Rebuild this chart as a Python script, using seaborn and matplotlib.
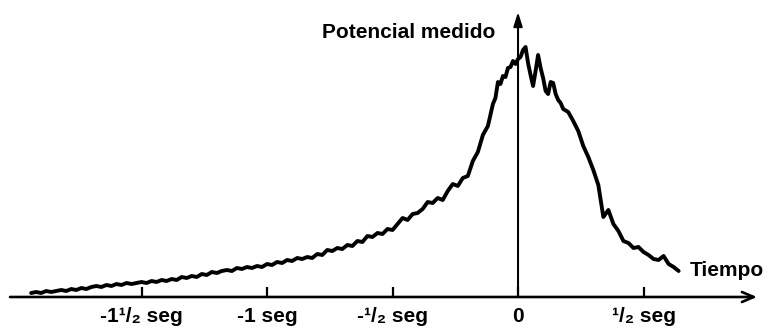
import numpy as np
import pandas as pd
import matplotlib
matplotlib.use("Agg")
import matplotlib.pyplot as plt
import seaborn as sns


# =========================
# DATA
# =========================

# sample times (s) and measured potential (arbitrary units)
TIME_S = [
    -1.94, -1.92, -1.90, -1.88, -1.86, -1.84, -1.82, -1.80, -1.78, -1.76,
    -1.74, -1.72, -1.70, -1.68, -1.66, -1.64, -1.62, -1.60, -1.58, -1.56,
    -1.54, -1.52, -1.50, -1.48, -1.46, -1.44, -1.42, -1.40, -1.38, -1.36,
    -1.34, -1.32, -1.30, -1.28, -1.26, -1.24, -1.22, -1.20, -1.18, -1.16,
    -1.14, -1.12, -1.10, -1.08, -1.06, -1.04, -1.02, -1.00, -0.98, -0.96,
    -0.94, -0.92, -0.90, -0.88, -0.86, -0.84, -0.82, -0.80, -0.78, -0.76,
    -0.74, -0.72, -0.70, -0.68, -0.66, -0.64, -0.62, -0.60, -0.58, -0.56,
    -0.54, -0.52, -0.50, -0.48, -0.46, -0.44, -0.42, -0.40, -0.38, -0.36,
    -0.34, -0.32, -0.30, -0.28, -0.26, -0.24, -0.22, -0.20, -0.18, -0.16,
    -0.14, -0.12, -0.10, -0.09, -0.08, -0.07, -0.06, -0.05, -0.04, -0.03,
    -0.02, -0.01, 0.00, 0.01, 0.02, 0.03, 0.04, 0.05, 0.06, 0.07,
    0.08, 0.09, 0.10, 0.11, 0.12, 0.13, 0.14, 0.15, 0.16, 0.17,
    0.18, 0.20, 0.22, 0.24, 0.26, 0.28, 0.30, 0.32, 0.34, 0.36,
    0.38, 0.40, 0.42, 0.44, 0.46, 0.48, 0.50, 0.52, 0.54, 0.56,
    0.58, 0.60, 0.62, 0.64,
]

POTENTIAL = [
    4, 5, 4, 6, 5, 6, 7, 6, 8, 7,
    9, 8, 10, 11, 10, 12, 11, 13, 12, 14,
    13, 14, 15, 14, 16, 15, 17, 16, 18, 17,
    20, 19, 21, 20, 23, 22, 25, 24, 26, 27,
    26, 29, 28, 30, 29, 31, 30, 33, 32, 35,
    34, 37, 36, 39, 38, 40, 39, 43, 42, 47,
    46, 49, 48, 52, 51, 56, 55, 61, 60, 64,
    63, 68, 67, 73, 79, 77, 83, 84, 88, 95,
    94, 99, 97, 106, 113, 111, 119, 121, 136, 145,
    162, 171, 193, 199, 215, 213, 221, 220, 229, 230,
    236, 233, 238, 240, 247, 250, 234, 222, 211, 226,
    242, 229, 219, 206, 203, 215, 214, 203, 197, 194,
    188, 185, 176, 166, 151, 140, 127, 112, 80, 87,
    73, 66, 56, 54, 49, 50, 45, 42, 38, 37,
    41, 33, 30, 26,
]

TICK_POS = [-1.5, -1.0, -0.5, 0.0, 0.5]
TICK_LABELS = ["-1\u00b9/\u2082 seg", "-1 seg", "-\u00b9/\u2082 seg", "0", "\u00b9/\u2082 seg"]

Y_LABEL = "Potencial medido"
X_LABEL = "Tiempo"


# =========================
# PLOT
# =========================

sns.set_theme(style="white")
plt.rcParams["font.family"] = ["Liberation Sans", "DejaVu Sans"]
plt.rcParams["text.color"] = "black"
plt.rcParams["xtick.color"] = "black"

df = pd.DataFrame({"t": TIME_S, "v": POTENTIAL})

fig = plt.figure(figsize=(7.7, 3.3), dpi=100)
ax = fig.add_axes([0, 0, 1, 1])

sns.lineplot(data=df, x="t", y="v", ax=ax, color="black",
             linewidth=2.8, solid_joinstyle="round", solid_capstyle="round")

ax.set_xlim(-2.064, 1.004)
ax.set_ylim(-33, 297)

# axes drawn as arrows
ax.annotate("", xy=(0.952, 0), xytext=(-2.024, 0),
            arrowprops=dict(arrowstyle="->,head_length=0.7,head_width=0.3",
                            color="black", lw=1.9, shrinkA=0, shrinkB=0))
ax.annotate("", xy=(0, 285), xytext=(0, 0),
            arrowprops=dict(arrowstyle="-|>,head_length=0.7,head_width=0.22",
                            color="black", lw=1.5, shrinkA=0, shrinkB=0))

for side in ["top", "right", "left"]:
    ax.spines[side].set_visible(False)
ax.spines["bottom"].set_position(("data", 0))
ax.spines["bottom"].set_visible(False)

ax.set_xticks(TICK_POS)
ax.set_xticklabels(TICK_LABELS, fontsize=15, fontweight="bold", color="black")
ax.tick_params(axis="x", direction="in", length=7, width=1.6,
               color="black", labelcolor="black", pad=7, bottom=True)
ax.set_yticks([])
ax.set_xlabel("")
ax.set_ylabel("")

ax.text(-0.092, 264, Y_LABEL, ha="right", va="center", fontsize=15,
        fontweight="bold", color="black")
ax.text(0.685, 26, X_LABEL, ha="left", va="center", fontsize=15,
        fontweight="bold", color="black")

fig.savefig("out.png", dpi=100)
